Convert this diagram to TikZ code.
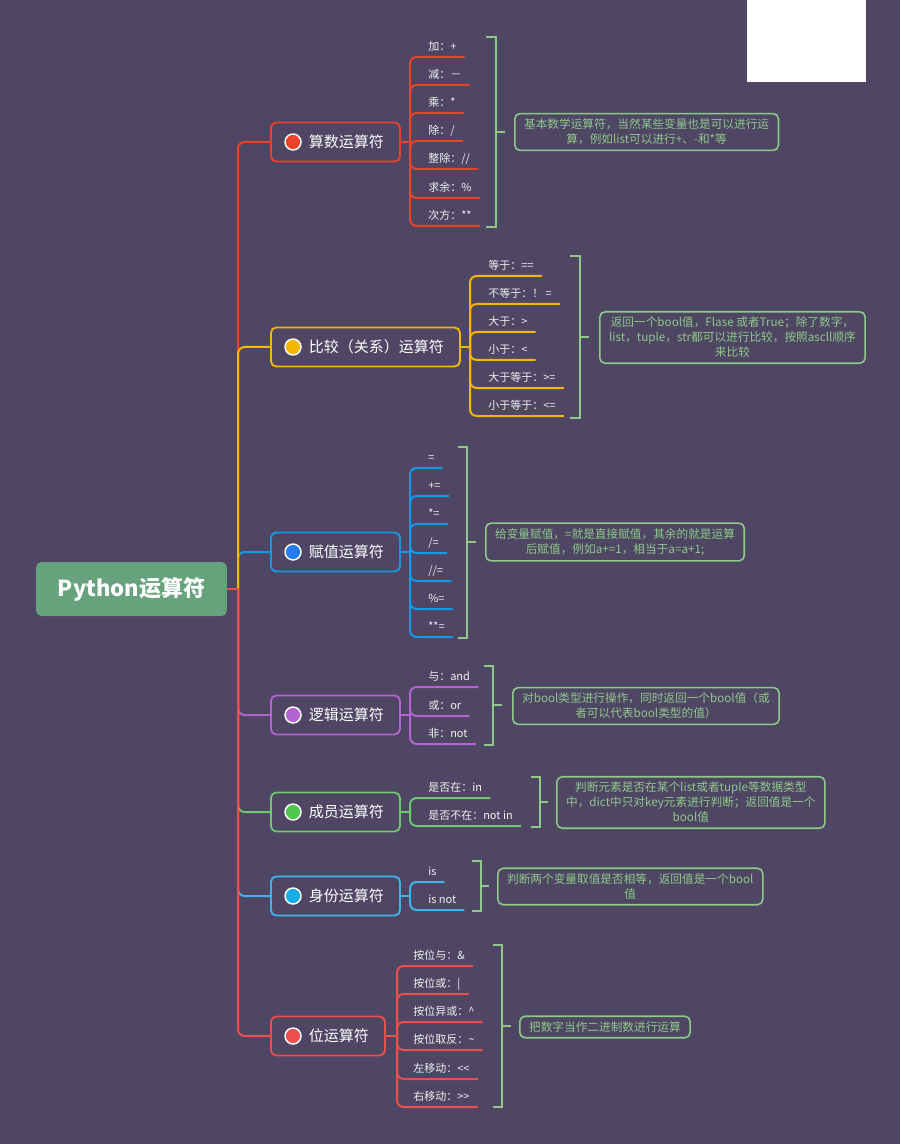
\documentclass[tikz,border=0pt]{standalone}
\usepackage{fontspec}
\setmainfont{Noto Sans CJK SC}
\usepackage{xcolor}
\usepackage{tikz}
\usetikzlibrary{positioning}
\definecolor{BgPurple}{RGB}{78,70,99}
\definecolor{RootGreen}{RGB}{102,163,124}
\definecolor{NoteGreen}{RGB}{143,201,138}
\definecolor{ArithRed}{RGB}{236,66,42}
\definecolor{CompYellow}{RGB}{245,183,0}
\definecolor{AssignBlue}{RGB}{18,155,228}
\definecolor{AssignDot}{RGB}{40,122,240}
\definecolor{LogicPurple}{RGB}{180,100,210}
\definecolor{MemberGreen}{RGB}{110,200,110}
\definecolor{MemberDot}{RGB}{80,200,80}
\definecolor{IdentBlue}{RGB}{62,180,235}
\definecolor{IdentDot}{RGB}{22,172,228}
\definecolor{BitRed}{RGB}{236,78,76}
\tikzset{
    rootbox/.style={rectangle, rounded corners=4pt, fill=RootGreen, text=white, minimum width=143pt, minimum height=40.5pt, font=\fontsize{16.5}{19}\selectfont\bfseries},
    catbox/.style={rectangle, draw, rounded corners=4pt, line width=1.4pt, fill=BgPurple, text=white, anchor=west, minimum height=29.25pt, inner xsep=12pt, font=\fontsize{11.25}{13}\selectfont},
    catdot/.style={circle, draw=white, line width=1.1pt, minimum size=12pt, inner sep=0pt},
    leaf/.style={anchor=south west, text=white!94!black, inner xsep=6pt, inner ysep=2.5pt, text height=8pt, text depth=2pt, font=\fontsize{8.25}{10}\selectfont},
    note/.style={rectangle, draw=NoteGreen, rounded corners=4pt, line width=1.2pt, text=NoteGreen, align=center, anchor=west, inner xsep=7pt, inner ysep=4pt, font=\fontsize{8.75}{11.25}\selectfont},
    brace/.style={draw=NoteGreen, line width=1.1pt},
    branch/.style={line width=1.5pt, rounded corners=5pt}
}
\begin{document}
\begin{tikzpicture}[x=0.75pt, y=-0.75pt]
    % nền
    \useasboundingbox (0,0) rectangle (900,1144);
    \fill[BgPurple] (0,0) rectangle (900,1144);
    \fill[white] (747,0) rectangle (866,82);

    % --- Gốc ---
    \node[rootbox] (root) at (131.5,589) {Python运算符};
    \coordinate (trunk) at (238,589);

    % --- Các nhánh chính ---
    \node[catbox, draw=ArithRed] (arith) at (270,142) {\hspace{16.5pt}算数运算符};
    \node[catdot, fill=ArithRed] (arDot) at (293,142) {};
    \node[catbox, draw=CompYellow] (comp) at (270,347) {\hspace{16.5pt}比较（关系）运算符};
    \node[catdot, fill=CompYellow] (cpDot) at (293,347) {};
    \node[catbox, draw=AssignBlue] (assign) at (270,552) {\hspace{16.5pt}赋值运算符};
    \node[catdot, fill=AssignDot] (asDot) at (293,552) {};
    \node[catbox, draw=LogicPurple] (logic) at (270,715) {\hspace{16.5pt}逻辑运算符};
    \node[catdot, fill=LogicPurple] (lgDot) at (293,715) {};
    \node[catbox, draw=MemberGreen] (member) at (270,812) {\hspace{16.5pt}成员运算符};
    \node[catdot, fill=MemberDot] (mbDot) at (293,812) {};
    \node[catbox, draw=IdentBlue] (ident) at (270,896) {\hspace{16.5pt}身份运算符};
    \node[catdot, fill=IdentDot] (idDot) at (293,896) {};
    \node[catbox, draw=BitRed] (bit) at (270,1036) {\hspace{16.5pt}位运算符};
    \node[catdot, fill=BitRed] (btDot) at (293,1036) {};

    % thân nối
    \draw[branch, ArithRed] (trunk) |- (arith.west);
    \draw[branch, AssignBlue] (trunk) |- (assign.west);
    \draw[branch, CompYellow] (trunk) |- (comp.west);
    \draw[branch, LogicPurple] (trunk) |- (logic.west);
    \draw[branch, MemberGreen] (trunk) |- (member.west);
    \draw[branch, IdentBlue] (trunk) |- (ident.west);
    \draw[branch, BitRed] (trunk) |- (bit.west);
    \draw[line width=1.5pt, BitRed] (root.east) -- (trunk);

    % ---算数运算符 ---
    \coordinate (arJ) at (410,142);
    \node[leaf] (ar1) at (420,57) {加：+};
    \node[leaf] (ar2) at (420,85) {减：－};
    \node[leaf] (ar3) at (420,113) {乘：*};
    \node[leaf] (ar4) at (420,141) {除：/};
    \node[leaf] (ar5) at (420,169) {整除：//};
    \node[leaf] (ar6) at (420,198) {求余：\%};
    \node[leaf] (ar7) at (420,226) {次方：**};
    \draw[branch, ArithRed] (arith.east) -- (arJ);
    \draw[branch, ArithRed] (arJ) |- (ar1.south east);
    \draw[branch, ArithRed] (arJ) |- (ar2.south east);
    \draw[branch, ArithRed] (arJ) |- (ar3.south east);
    \draw[branch, ArithRed] (arJ) |- (ar4.south east);
    \draw[branch, ArithRed] (arJ) |- (ar5.south east);
    \draw[branch, ArithRed] (arJ) |- (ar6.south east);
    \draw[branch, ArithRed] (arJ) |- (ar7.south east);
    \draw[brace] (486,37) -- (496,37) -- (496,227) -- (486,227);
    \coordinate (arBr) at (496,132);
    \node[note] (arNote) at (514,132) {基本数学运算符，当然某些变量也是可以进行运\\算，例如list可以进行+、-和*等};
    \draw[brace] (arBr) -- ++(9,0);

    % --- 比较（关系）运算符 ---
    \coordinate (cpJ) at (470,347);
    \node[leaf] (cp1) at (480,276) {等于：==};
    \node[leaf] (cp2) at (480,304) {不等于：！ =};
    \node[leaf] (cp3) at (480,332) {大于：>};
    \node[leaf] (cp4) at (480,360) {小于：<};
    \node[leaf] (cp5) at (480,388) {大于等于：>=};
    \node[leaf] (cp6) at (480,416) {小于等于：<=};
    \draw[branch, CompYellow] (comp.east) -- (cpJ);
    \draw[branch, CompYellow] (cpJ) |- (cp1.south east);
    \draw[branch, CompYellow] (cpJ) |- (cp2.south east);
    \draw[branch, CompYellow] (cpJ) |- (cp3.south east);
    \draw[branch, CompYellow] (cpJ) |- (cp4.south east);
    \draw[branch, CompYellow] (cpJ) |- (cp5.south east);
    \draw[branch, CompYellow] (cpJ) |- (cp6.south east);
    \draw[brace] (570,256) -- (580,256) -- (580,418) -- (570,418);
    \coordinate (cpBr) at (580,337);
    \node[note] (cpNote) at (599,337.5) {返回一个bool值，Flase 或者True；除了数字，\\list，tuple，str都可以进行比较，按照ascll顺序\\来比较};
    \draw[brace] (cpBr) -- ++(9,0);

    % --- 赋值运算符 ---
    \coordinate (asJ) at (410,552);
    \node[leaf] (as1) at (420,468) {=};
    \node[leaf] (as2) at (420,496) {+=};
    \node[leaf] (as3) at (420,524) {*=};
    \node[leaf] (as4) at (420,553) {/=};
    \node[leaf] (as5) at (420,581) {//=};
    \node[leaf] (as6) at (420,609) {\%=};
    \node[leaf] (as7) at (420,637) {**=};
    \draw[branch, AssignBlue] (assign.east) -- (asJ);
    \draw[branch, AssignBlue] (asJ) |- (as1.south east);
    \draw[branch, AssignBlue] (asJ) |- (as2.south east);
    \draw[branch, AssignBlue] (asJ) |- (as3.south east);
    \draw[branch, AssignBlue] (asJ) |- (as4.south east);
    \draw[branch, AssignBlue] (asJ) |- (as5.south east);
    \draw[branch, AssignBlue] (asJ) |- (as6.south east);
    \draw[branch, AssignBlue] (asJ) |- (as7.south east);
    \draw[brace] (458,447) -- (467,447) -- (467,638) -- (458,638);
    \coordinate (asBr) at (467,542);
    \node[note] (asNote) at (485,542) {给变量赋值，=就是直接赋值，其余的就是运算\\后赋值，例如a+=1，相当于a=a+1;};
    \draw[brace] (asBr) -- ++(9,0);

    % --- 逻辑运算符 ---
    \coordinate (lgJ) at (410,715);
    \node[leaf] (lg1) at (420,687) {与：and};
    \node[leaf] (lg2) at (420,716) {或：or};
    \node[leaf] (lg3) at (420,744) {非：not};
    \draw[branch, LogicPurple] (logic.east) -- (lgJ);
    \draw[branch, LogicPurple] (lgJ) |- (lg1.south east);
    \draw[branch, LogicPurple] (lgJ) |- (lg2.south east);
    \draw[branch, LogicPurple] (lgJ) |- (lg3.south east);
    \draw[brace] (484,666) -- (493,666) -- (493,745) -- (484,745);
    \coordinate (lgBr) at (493,705);
    \node[note] (lgNote) at (512,706) {对bool类型进行操作，同时返回一个bool值（或\\者可以代表bool类型的值）};
    \draw[brace] (lgBr) -- ++(9,0);

    % --- 成员运算符 ---
    \coordinate (mbJ) at (410,812);
    \node[leaf] (mb1) at (420,798) {是否在：in};
    \node[leaf] (mb2) at (420,826) {是否不在：not in};
    \draw[branch, MemberGreen] (member.east) -- (mbJ);
    \draw[branch, MemberGreen] (mbJ) |- (mb1.south east);
    \draw[branch, MemberGreen] (mbJ) |- (mb2.south east);
    \draw[brace] (531,777) -- (540,777) -- (540,827) -- (531,827);
    \coordinate (mbBr) at (540,802);
    \node[note] (mbNote) at (556,802.5) {判断元素是否在某个list或者tuple等数据类型\\中，dict中只对key元素进行判断；返回值是一个\\bool值};
    \draw[brace] (mbBr) -- ++(8,0);

    % --- 身份运算符 ---
    \coordinate (idJ) at (410,896);
    \node[leaf] (id1) at (420,882) {is};
    \node[leaf] (id2) at (420,910) {is not};
    \draw[branch, IdentBlue] (ident.east) -- (idJ);
    \draw[branch, IdentBlue] (idJ) |- (id1.south east);
    \draw[branch, IdentBlue] (idJ) |- (id2.south east);
    \draw[brace] (472,861) -- (481,861) -- (481,911) -- (472,911);
    \coordinate (idBr) at (481,886);
    \node[note] (idNote) at (497,886.5) {判断两个变量取值是否相等，返回值是一个bool\\值};
    \draw[brace] (idBr) -- ++(8,0);

    % --- 位运算符 ---
    \coordinate (btJ) at (397,1036);
    \node[leaf] (bt1) at (405,966) {按位与：\&};
    \node[leaf] (bt2) at (405,994) {按位或：|};
    \node[leaf] (bt3) at (405,1022) {按位异或：\textasciicircum};
    \node[leaf] (bt4) at (405,1050) {按位取反：\textasciitilde};
    \node[leaf] (bt5) at (405,1079) {左移动：<\kern0pt<};
    \node[leaf] (bt6) at (405,1107) {右移动：>\kern0pt>};
    \draw[branch, BitRed] (bit.east) -- (btJ);
    \draw[branch, BitRed] (btJ) |- (bt1.south east);
    \draw[branch, BitRed] (btJ) |- (bt2.south east);
    \draw[branch, BitRed] (btJ) |- (bt3.south east);
    \draw[branch, BitRed] (btJ) |- (bt4.south east);
    \draw[branch, BitRed] (btJ) |- (bt5.south east);
    \draw[branch, BitRed] (btJ) |- (bt6.south east);
    \draw[brace] (493,945) -- (502,945) -- (502,1107) -- (493,1107);
    \coordinate (btBr) at (502,1026);
    \node[note] (btNote) at (519,1027) {把数字当作二进制数进行运算};
    \draw[brace] (btBr) -- ++(9,0);

\end{tikzpicture}
\end{document}
